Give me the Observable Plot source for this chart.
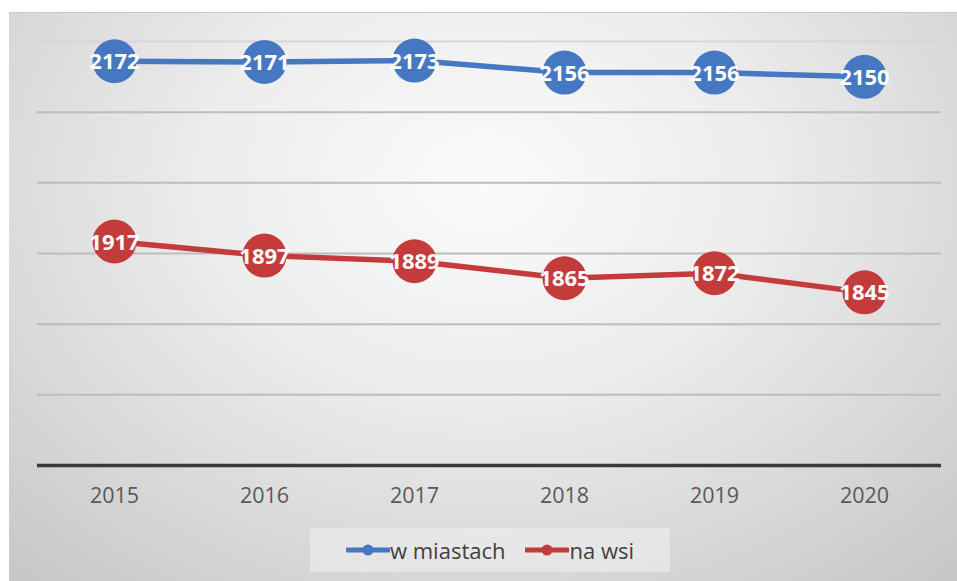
<!DOCTYPE html>
<html>
<head>
<meta charset="utf-8">
<script src="https://cdn.jsdelivr.net/npm/d3@7"></script>
<script src="https://cdn.jsdelivr.net/npm/@observablehq/plot@0.6"></script>
<style>
  html, body { margin: 0; padding: 0; background: #ffffff; }
  body { width: 957px; height: 581px; position: relative; overflow: hidden; font-family: "Open Sans", sans-serif; }
  #frame {
    position: absolute; left: 9px; top: 12px; width: 948px; height: 569px;
    background: radial-gradient(ellipse 75% 95% at 50% 30%, #fbfbfb 0%, #ececec 40%, #d6d6d6 75%, #c6c6c6 100%);
  }
  #topline { position: absolute; left: 0; top: 0; width: 948px; height: 1px; background: #c8c8c8; }
  #chart { position: absolute; left: 0; top: 0; }
  #legend {
    position: absolute; left: 301px; top: 516px; width: 360px; height: 44px;
    background: rgba(240,240,240,0.55);
    display: flex; align-items: center; justify-content: center; gap: 20px;
    font-size: 22px; color: #404040;
  }
  .item { display: flex; align-items: center; }
</style>
</head>
<body>
<div id="frame">
  <div id="topline"></div>
  <div id="chart"></div>
  <div id="legend"></div>
</div>
<script>
const years = ["2015", "2016", "2017", "2018", "2019", "2020"];
const wMiastach = [2172, 2171, 2173, 2156, 2156, 2150];
const naWsi = [1917, 1897, 1889, 1865, 1872, 1845];
const seriesNames = ["w miastach", "na wsi"];
const seriesColors = ["#4677c1", "#c43b3b"];
const gridTicks = [1700, 1800, 1900, 2000, 2100];
const topGrid = [2200];
const yDomain = [1600, 2200];

const data = [];
years.forEach((y, i) => {
  data.push({year: y, value: wMiastach[i], series: seriesNames[0]});
  data.push({year: y, value: naWsi[i], series: seriesNames[1]});
});

const chart = Plot.plot({
  width: 948,
  height: 505,
  marginLeft: 28,
  marginRight: 16,
  marginTop: 29,
  marginBottom: 52,
  style: {background: "transparent", fontFamily: "'Open Sans', sans-serif"},
  x: {type: "point", domain: years, padding: 0.5, label: null},
  y: {domain: yDomain, axis: null},
  color: {domain: seriesNames, range: seriesColors},
  marks: [
    Plot.ruleY(gridTicks, {stroke: "#bdbdbd", strokeWidth: 2}),
    Plot.ruleY(topGrid, {stroke: "#d6d6d6", strokeWidth: 2}),
    Plot.ruleY([yDomain[0]], {stroke: "#3a3a3a", strokeWidth: 3.5}),
    Plot.axisX({tickSize: 0, tickPadding: 22, fontSize: 21.5, fill: "#595959", label: null}),
    Plot.line(data, {x: "year", y: "value", z: "series", stroke: "series", strokeWidth: 5.5}),
    Plot.dot(data, {x: "year", y: "value", fill: "series", r: 22, stroke: "none"}),
    Plot.text(data, {x: "year", y: "value", text: d => String(d.value), fill: "white", fontSize: 22, fontWeight: "bold", dy: 1})
  ]
});
document.getElementById("chart").appendChild(chart);

const legend = document.getElementById("legend");
seriesNames.forEach((name, i) => {
  const item = document.createElement("div");
  item.className = "item";
  item.innerHTML = `<svg width="44" height="14"><line x1="1" y1="7" x2="43" y2="7" stroke="${seriesColors[i]}" stroke-width="5" stroke-linecap="round"/><circle cx="22" cy="7" r="5.5" fill="${seriesColors[i]}"/></svg><span>${name}</span>`;
  legend.appendChild(item);
});
</script>
</body>
</html>
